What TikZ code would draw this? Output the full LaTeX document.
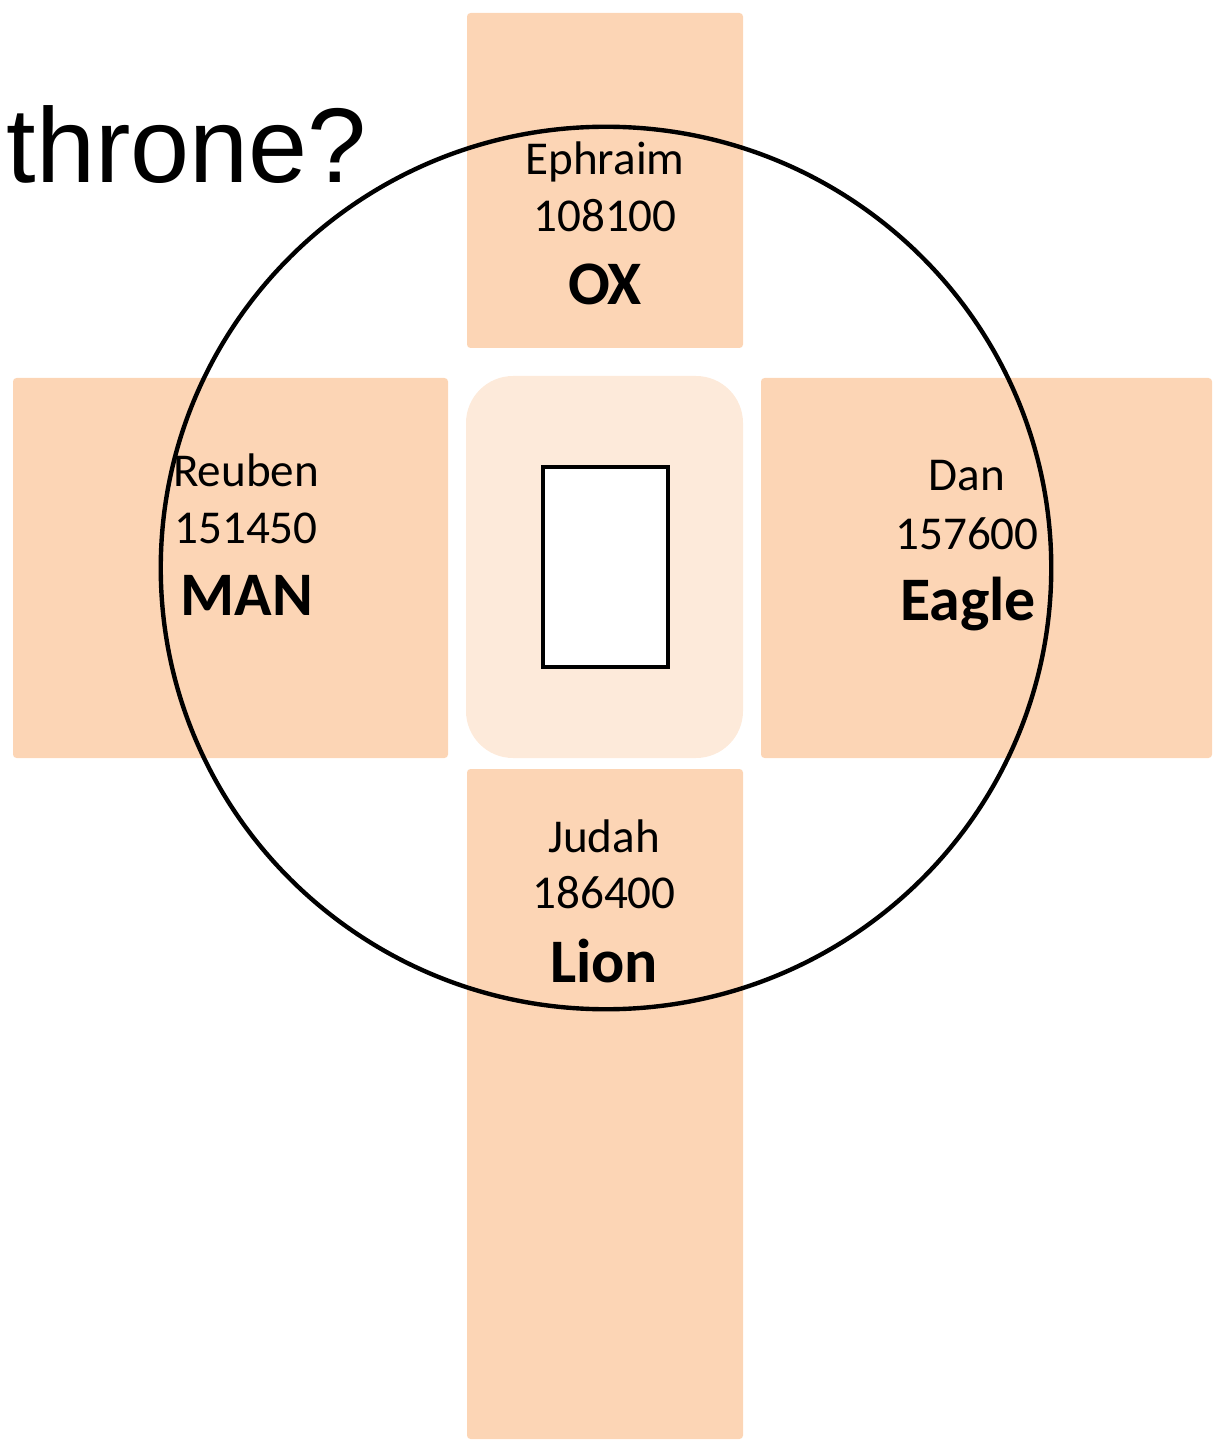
\documentclass[tikz,border=0pt]{standalone}
\usepackage{fontspec}
\setmainfont{Carlito}
\newfontfamily\arialfont{Liberation Sans}
\tikzstyle{camp} = [fill=peach, rounded corners=1pt]
\tikzstyle{tribe} = [anchor=base, inner sep=0pt, font=\fontsize{13.4}{15}\selectfont]
\tikzstyle{beast} = [anchor=base, inner sep=0pt, font=\fontsize{17.6}{20}\selectfont\bfseries]
\definecolor{peach}{RGB}{252,213,181}
\definecolor{peachlight}{RGB}{253,234,218}
\definecolor{black}{RGB}{0,0,0}
\definecolor{white}{RGB}{255,255,255}

\begin{document}
\begin{tikzpicture}[x=0.01cm, y=-0.01cm]
    \useasboundingbox (0,0) rectangle (1218,1440);

    % camps
    \fill[camp] (467,13) rectangle (743,348);     % north
    \fill[camp] (13,378) rectangle (448,758);     % west
    \fill[camp] (761,378) rectangle (1212,758);   % east
    \fill[camp] (467,769) rectangle (743,1439);   % south

    % tabernacle
    \fill[peachlight, rounded corners=0.47cm] (466,376) rectangle (743,758);
    \draw[black, fill=white, line width=1.4pt] (543,467) rectangle (668,667);

    % ring round the camp
    \draw[black, line width=1.25pt] (606,568) ellipse [x radius=4.45cm, y radius=4.41cm];

    % question
    \node[anchor=base west, inner sep=0pt, font=\arialfont\fontsize{30.2}{34}\selectfont] (throne) at (6,183) {throne?};

    % north
    \node[tribe] (ephraim) at (605,175) {Ephraim};
    \node[tribe] (ephraimnum) at (605,232) {108100};
    \node[beast] (ox) at (605,305) {OX};

    % west
    \node[tribe] (reuben) at (246,487) {Reuben};
    \node[tribe] (reubennum) at (246,544) {151450};
    \node[beast] (man) at (247,615) {MAN};

    % east
    \node[tribe] (dan) at (967,491) {Dan};
    \node[tribe] (dannum) at (967,550) {157600};
    \node[beast] (eagle) at (968,620) {Eagle};

    % south
    \node[tribe] (judah) at (604,852) {Judah};
    \node[tribe] (judahnum) at (604,908) {186400};
    \node[beast] (lion) at (604,982) {Lion};
\end{tikzpicture}
\end{document}
